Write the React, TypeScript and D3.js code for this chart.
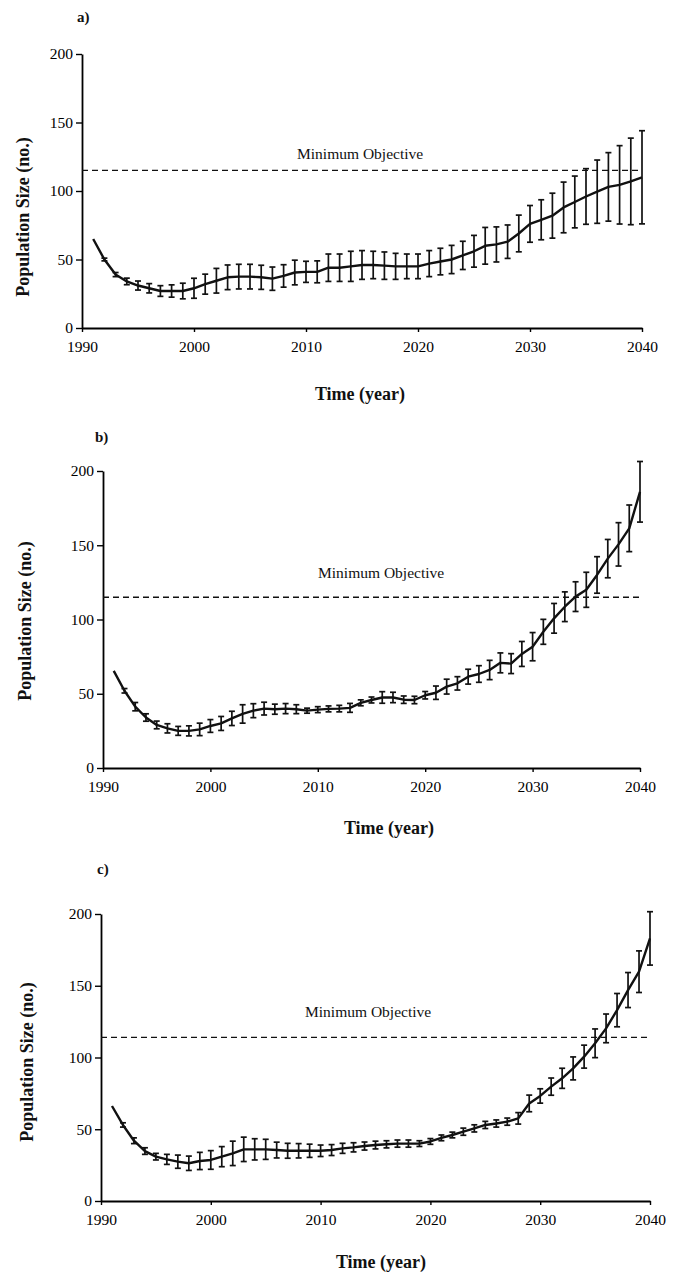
import React, { useEffect, useRef } from "react";
import * as d3 from "d3";

// years simulated (one point per year)
const years = [
  1991, 1992, 1993, 1994, 1995, 1996, 1997, 1998, 1999, 2000,
  2001, 2002, 2003, 2004, 2005, 2006, 2007, 2008, 2009, 2010,
  2011, 2012, 2013, 2014, 2015, 2016, 2017, 2018, 2019, 2020,
  2021, 2022, 2023, 2024, 2025, 2026, 2027, 2028, 2029, 2030,
  2031, 2032, 2033, 2034, 2035, 2036, 2037, 2038, 2039, 2040,
];

// panel a
const meanA = [
  65, 50, 39, 34, 31, 29, 27, 27, 27, 29,
  32, 34.5, 37, 37.5, 37.5, 37, 36, 38, 40.5, 41,
  41, 44, 44, 45, 46, 46, 45.5, 45, 45, 45,
  47, 48.5, 50, 53, 56, 60, 61, 63, 69, 76,
  79, 82, 88, 92, 96, 99.5, 103, 104.5, 107, 110,
];
const errA = [
  0, 1, 1.5, 2.4, 3.3, 3.4, 3.9, 4.5, 5.7, 7.3,
  7.3, 9, 9, 9, 9, 8.8, 8.5, 8.2, 9, 7.7,
  8, 10, 10, 11, 10.5, 10, 10, 9.5, 9, 9,
  9.5, 9.7, 10.3, 10.3, 11.6, 13.4, 12.8, 12.2, 13.4, 13.4,
  14.6, 16.4, 18.5, 18.9, 20.3, 23.1, 25, 28.6, 31.6, 34,
];

// panel b
const meanB = [
  65.4, 52, 41.3, 34, 29, 26.7, 25, 25, 26, 28.3,
  30, 33.4, 36.4, 38.6, 40, 39.6, 40, 39.6, 38.6, 39.3,
  39.8, 40, 40.5, 43.9, 45.8, 47.5, 47.5, 46, 45.8, 49,
  50.7, 54.8, 57, 61.5, 63.3, 66, 70.8, 70.3, 76.8, 81.7,
  91.7, 100.8, 108.6, 115.4, 120, 130, 141, 150.6, 161.4, 186,
];
const errB = [
  0, 1.5, 2.8, 2.5, 2.6, 3.1, 3, 3.4, 4.2, 4.3,
  4.7, 4.8, 6.2, 4.7, 4.3, 3.4, 3.4, 3, 1.7, 2,
  2, 2.2, 3, 2, 2, 3.9, 3.5, 2.5, 2.5, 2.5,
  4.5, 5, 4.5, 5, 5.6, 6.5, 6.7, 6.7, 8.4, 9.5,
  8.4, 10, 10, 10, 11.8, 12.3, 12.9, 14.6, 15.7, 20.4,
];

// panel c
const meanC = [
  66.2, 53, 42, 34.8, 30.9, 29, 27.4, 26.3, 27.9, 28.6,
  30.9, 33.2, 36, 36, 36, 35.5, 35, 35, 35, 35,
  35.5, 36.7, 37.4, 38.3, 39, 39.5, 40, 40, 40, 41.5,
  44, 46, 48.3, 50.6, 53, 54, 55.3, 57.6, 68, 73.2,
  79.7, 85.5, 92.4, 100.6, 109.9, 120.3, 133, 147, 159.8, 183,
];
const errC = [
  0, 1.5, 2, 2.3, 2.3, 3.5, 4.6, 5, 6, 6.5,
  7, 8.5, 8.5, 7.4, 7, 5.5, 5.2, 5, 4.6, 4,
  3.8, 3.5, 3.2, 2.8, 2.7, 2.5, 2.5, 2.5, 2, 2,
  2, 2, 2.5, 2.5, 2.5, 2.5, 2.5, 4, 5.8, 5,
  6, 7, 8, 8, 10, 10, 11.6, 12.2, 14.5, 18.6,
];

const xTicks = [1990, 2000, 2010, 2020, 2030, 2040];
const yTicks = [0, 50, 100, 150, 200];
const panelTags = ["a)", "b)", "c)"];
const objectives = [115, 115, 114];
const objectiveLabel = "Minimum Objective";
const xTitle = "Time (year)";
const yTitle = "Population Size (no.)";

// page layout of the three panels (pixels)
const layout = [
  { left: 82, right: 642, top: 54, bottom: 328, tag: [77, 22], yt: [23, 217], xt: [360, 400], note: [297, 159] },
  { left: 103, right: 640, top: 471, bottom: 768, tag: [95, 442], yt: [25, 621], xt: [389, 834], note: [318, 578] },
  { left: 101, right: 650, top: 914, bottom: 1201, tag: [97, 874], yt: [27, 1062], xt: [381, 1268], note: [305, 1017] },
];

const serif = "'Liberation Serif', 'DejaVu Serif', serif";

function drawPanel(svg: any, p: any, mean: number[], err: number[], obj: number, tag: string) {
  const x = d3.scaleLinear().domain([1990, 2040]).range([p.left, p.right]);
  const y = d3.scaleLinear().domain([0, 200]).range([p.bottom, p.top]);
  const g = svg.append("g");

  // x axis
  const gx = g
    .append("g")
    .attr("transform", `translate(0,${p.bottom})`)
    .call(d3.axisBottom(x).tickValues(xTicks).tickFormat(d3.format("d")).tickSize(4).tickSizeOuter(0).tickPadding(9));
  gx.select(".domain").attr("stroke-width", 1.8);
  gx.selectAll("line").attr("stroke-width", 1.4);
  gx.selectAll("text").attr("font-family", serif).attr("font-size", 15.5).attr("fill", "#000");

  // y axis
  const gy = g
    .append("g")
    .attr("transform", `translate(${p.left},0)`)
    .call(d3.axisLeft(y).tickValues(yTicks).tickSize(6).tickSizeOuter(0).tickPadding(3));
  gy.select(".domain").attr("stroke-width", 1.8);
  gy.selectAll("line").attr("stroke-width", 1.4);
  gy.selectAll("text").attr("font-family", serif).attr("font-size", 15.5).attr("fill", "#000");

  // objective line
  g.append("line")
    .attr("x1", x(1990))
    .attr("x2", x(2040))
    .attr("y1", y(obj))
    .attr("y2", y(obj))
    .attr("stroke", "#111")
    .attr("stroke-width", 1.3)
    .attr("stroke-dasharray", "6,4");

  g.append("text")
    .attr("x", p.note[0])
    .attr("y", p.note[1])
    .attr("font-family", serif)
    .attr("font-size", 15.5)
    .attr("fill", "#111")
    .text(objectiveLabel);

  // error bars
  const bars = g
    .append("g")
    .attr("stroke", "#111")
    .attr("stroke-width", 1.7)
    .selectAll("g")
    .data(mean.map((m, i) => ({ yr: years[i], m, e: err[i] })).filter((d) => d.e > 0))
    .join("g");
  bars
    .append("line")
    .attr("x1", (d: any) => x(d.yr))
    .attr("x2", (d: any) => x(d.yr))
    .attr("y1", (d: any) => y(d.m - d.e))
    .attr("y2", (d: any) => y(d.m + d.e));
  bars
    .append("line")
    .attr("x1", (d: any) => x(d.yr) - 3)
    .attr("x2", (d: any) => x(d.yr) + 3)
    .attr("y1", (d: any) => y(d.m + d.e))
    .attr("y2", (d: any) => y(d.m + d.e));
  bars
    .append("line")
    .attr("x1", (d: any) => x(d.yr) - 3)
    .attr("x2", (d: any) => x(d.yr) + 3)
    .attr("y1", (d: any) => y(d.m - d.e))
    .attr("y2", (d: any) => y(d.m - d.e));

  // mean line
  const line = d3
    .line<number>()
    .x((d, i) => x(years[i]))
    .y((d) => y(d));
  g.append("path")
    .attr("d", line(mean))
    .attr("fill", "none")
    .attr("stroke", "#111")
    .attr("stroke-width", 2.4)
    .attr("stroke-linejoin", "round");

  // titles
  g.append("text")
    .attr("x", p.tag[0])
    .attr("y", p.tag[1])
    .attr("font-family", serif)
    .attr("font-weight", "bold")
    .attr("font-size", 15)
    .attr("fill", "#111")
    .text(tag);

  g.append("text")
    .attr("x", p.xt[0])
    .attr("y", p.xt[1])
    .attr("text-anchor", "middle")
    .attr("font-family", serif)
    .attr("font-weight", "bold")
    .attr("font-size", 18)
    .attr("fill", "#111")
    .text(xTitle);

  g.append("text")
    .attr("transform", `translate(${p.yt[0]},${p.yt[1]}) rotate(-90)`)
    .attr("text-anchor", "middle")
    .attr("dominant-baseline", "central")
    .attr("font-family", serif)
    .attr("font-weight", "bold")
    .attr("font-size", 18)
    .attr("fill", "#111")
    .text(yTitle);
}

export default function App() {
  const ref = useRef<SVGSVGElement>(null);

  useEffect(() => {
    const svg = d3.select(ref.current);
    svg.selectAll("*").remove();
    const series = [
      [meanA, errA],
      [meanB, errB],
      [meanC, errC],
    ];
    layout.forEach((p, i) => {
      drawPanel(svg, p, series[i][0], series[i][1], objectives[i], panelTags[i]);
    });
  }, []);

  return (
    <svg
      ref={ref}
      width={675}
      height={1275}
      viewBox="0 0 675 1275"
      style={{ position: "absolute", left: 0, top: 0, background: "#fff" }}
    />
  );
}
